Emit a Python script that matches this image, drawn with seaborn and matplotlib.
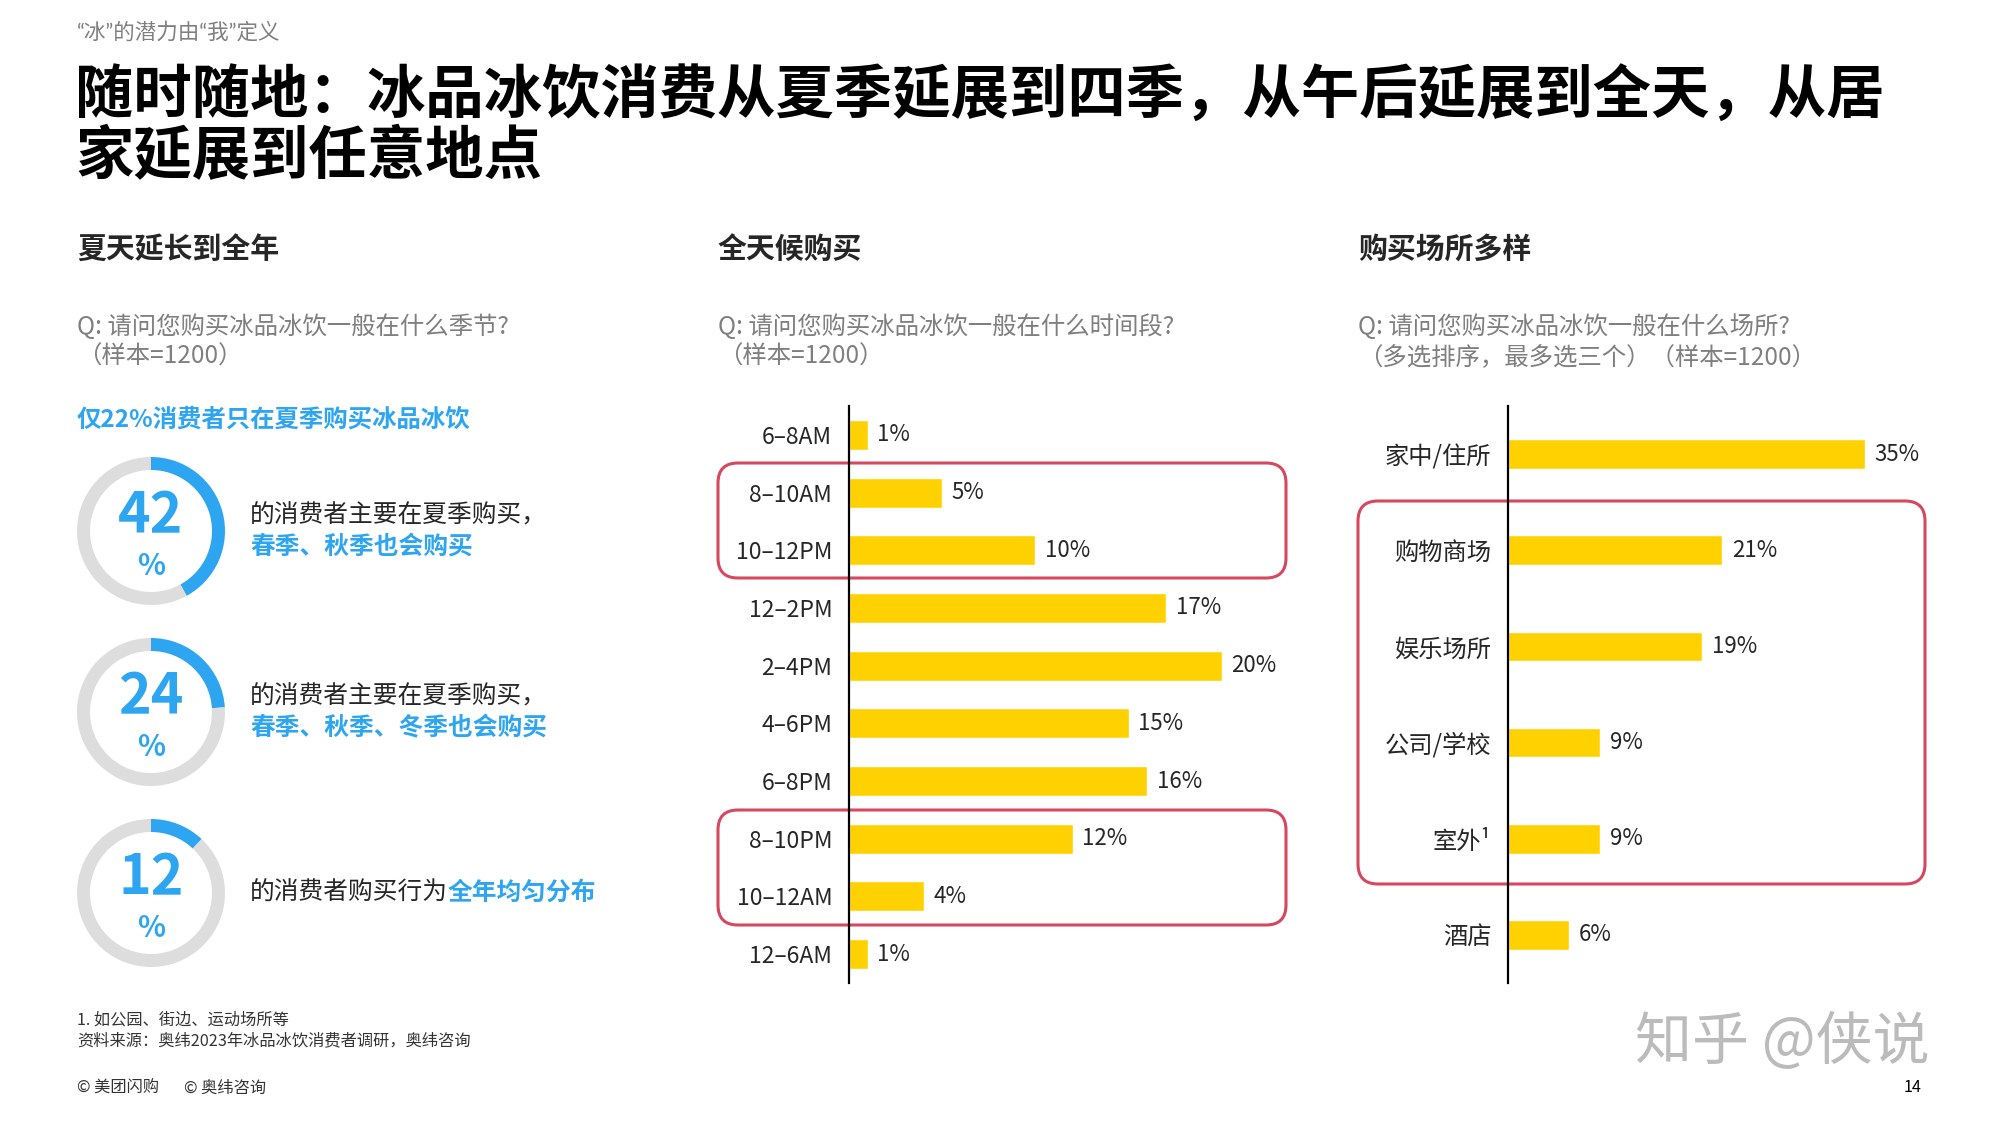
import pandas as pd
import matplotlib.pyplot as plt
import seaborn as sns
from matplotlib.patches import FancyBboxPatch

# ---- data ----
donut_share = [42, 24, 12]
donut_line1 = ["的消费者主要在夏季购买，", "的消费者主要在夏季购买，", "的消费者购买行为"]
donut_line2 = ["春季、秋季也会购买", "春季、秋季、冬季也会购买", "全年均匀分布"]

time_slots = ["6–8AM", "8–10AM", "10–12PM", "12–2PM", "2–4PM", "4–6PM",
              "6–8PM", "8–10PM", "10–12AM", "12–6AM"]
time_share = [1, 5, 10, 17, 20, 15, 16, 12, 4, 1]

places = ["家中/住所", "购物商场", "娱乐场所", "公司/学校", "室外¹", "酒店"]
place_share = [35, 21, 19, 9, 9, 6]

BLUE = "#2EA5F0"
GRAY_RING = "#DDDDDD"
YELLOW = "#FFD100"
RED = "#D6485F"
GRAY_TXT = "#7F7F7F"

sns.set_style("white")
plt.rcParams["font.family"] = ["Noto Sans CJK SC", "DejaVu Sans"]

W, H = 2000, 1125
fig = plt.figure(figsize=(20, 11.25), dpi=100)

# background axes in pixel units (origin top-left) for all the page text
bg = fig.add_axes([0, 0, 1, 1])
bg.set_xlim(0, W)
bg.set_ylim(H, 0)
bg.axis("off")


def fx(x, y, w, h):
    # pixel box (left, top, width, height) -> figure fraction rect
    return [x / W, 1 - (y + h) / H, w / W, h / H]


# ---- header ----
bg.text(77, 32, "“冰”的潜力由“我”定义", fontsize=15.5, color=GRAY_TXT, va="center",
        family=["Lato", "Noto Sans CJK SC"])
bg.text(75, 96, "随时随地：冰品冰饮消费从夏季延展到四季，从午后延展到全天，从居",
        fontsize=42, weight="bold", va="center", color="black")
bg.text(75, 157, "家延展到任意地点", fontsize=42, weight="bold", va="center", color="black")

# ---- section headings and questions ----
sections = [
    (77, "夏天延长到全年", "Q: 请问您购买冰品冰饮一般在什么季节?", "（样本=1200）"),
    (718, "全天候购买", "Q: 请问您购买冰品冰饮一般在什么时间段?", "（样本=1200）"),
    (1358, "购买场所多样", "Q: 请问您购买冰品冰饮一般在什么场所?", "（多选排序，最多选三个）（样本=1200）"),
]
for x0, head, q1, q2 in sections:
    bg.text(x0, 249, head, fontsize=20.8, weight="bold", va="center")
    bg.text(x0, 327, q1, fontsize=17.6, color=GRAY_TXT, va="center")
    bg.text(x0, 357, q2, fontsize=17.6, color=GRAY_TXT, va="center")

bg.text(77, 420, "仅22%消费者只在夏季购买冰品冰饮", fontsize=17.6, weight="bold",
        color=BLUE, va="center")

# ---- donuts ----
donut_cy = [531, 712, 893]
for share, cy, l1, l2 in zip(donut_share, donut_cy, donut_line1, donut_line2):
    dax = fig.add_axes(fx(151 - 85, cy - 85, 170, 170))
    dax.pie([share, 100 - share], radius=74, startangle=90, counterclock=False,
            colors=[BLUE, GRAY_RING], wedgeprops=dict(width=13, linewidth=0))
    dax.set_xlim(-85, 85)
    dax.set_ylim(-85, 85)
    dax.text(0, 15, str(share), fontsize=40, weight="bold", color=BLUE,
             ha="center", va="center")
    dax.text(0, -35, "%", fontsize=21, weight="bold", color=BLUE,
             ha="center", va="center")
    if share == donut_share[-1]:
        t1 = bg.text(250, cy, l1, fontsize=17.8, va="center")
        bg.annotate(l2, xy=(1, 0.5), xycoords=t1, fontsize=17.8, weight="bold",
                    color=BLUE, va="center", ha="left")
    else:
        bg.text(250, cy - 15, l1, fontsize=17.8, va="center")
        bg.text(250, cy + 16, l2, fontsize=17.8, weight="bold", color=BLUE, va="center")

# ---- time of day bars ----
ax_mid = fig.add_axes(fx(849, 406, 466, 577))
ax_mid.patch.set_alpha(0)
time_df = pd.DataFrame({"slot": time_slots, "share": time_share})
sns.barplot(data=time_df, x="share", y="slot", orient="h", color=YELLOW,
            saturation=1, width=0.52, ax=ax_mid)
ax_mid.set_xlim(0, 25)
ax_mid.bar_label(ax_mid.containers[0], labels=[f"{v}%" for v in time_share],
                 padding=7, fontsize=16)
ax_mid.tick_params(axis="y", labelsize=16.5)

# ---- place bars ----
ax_right = fig.add_axes(fx(1508, 406, 408, 577))
ax_right.patch.set_alpha(0)
place_df = pd.DataFrame({"place": places, "share": place_share})
sns.barplot(data=place_df, x="share", y="place", orient="h", color=YELLOW,
            saturation=1, width=0.31, ax=ax_right)
ax_right.set_xlim(0, 40)
ax_right.bar_label(ax_right.containers[0], labels=[f"{v}%" for v in place_share],
                   padding=7, fontsize=16)
ax_right.tick_params(axis="y", labelsize=17.5)

for ax in (ax_mid, ax_right):
    ax.set_xlabel("")
    ax.set_ylabel("")
    ax.set_xticks([])
    ax.tick_params(axis="y", length=0, pad=12)
    for s in ("top", "right", "bottom"):
        ax.spines[s].set_visible(False)
    ax.spines["left"].set_color("black")
    ax.spines["left"].set_linewidth(1.6)

# ---- red highlight boxes ----
boxes = [(718, 463, 568, 115), (718, 810, 568, 115), (1358, 501, 567, 383)]
for x0, y0, w, h in boxes:
    bg.add_patch(FancyBboxPatch((x0, y0), w, h,
                                boxstyle="round,pad=0,rounding_size=20",
                                fill=False, edgecolor=RED, linewidth=2.2))

# ---- footer ----
bg.text(77, 1020, "1. 如公园、街边、运动场所等", fontsize=11.7, color="#333333", va="center")
bg.text(77, 1041, "资料来源：奥纬2023年冰品冰饮消费者调研，奥纬咨询", fontsize=11.7,
        color="#333333", va="center")
bg.text(77, 1088, "© 美团闪购", fontsize=11.7, color="#333333", va="center")
bg.text(184, 1088, "© 奥纬咨询", fontsize=11.7, color="#333333", va="center")
bg.text(1913, 1088, "14", fontsize=11.7, color="black", va="center", ha="center")
bg.text(1782, 1043, "知乎 @侠说", fontsize=41, color="#BBBBBB", va="center", ha="center")

fig.savefig("out.png", dpi=100)
